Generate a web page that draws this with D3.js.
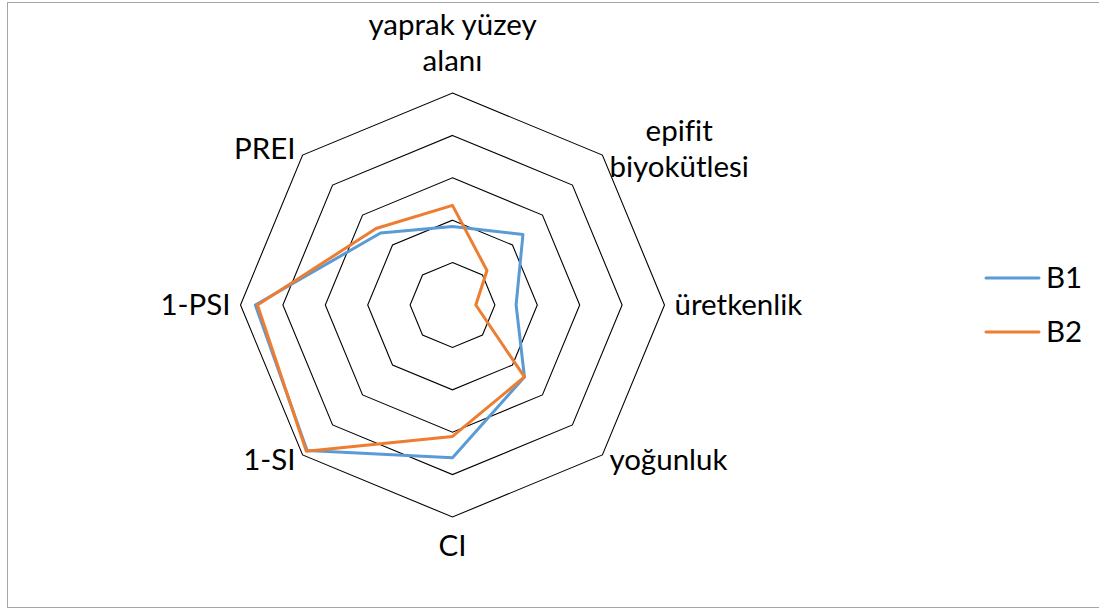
<!DOCTYPE html>
<html>
<head>
    <meta charset="utf-8">
    <title>Radar</title>
    <script src="https://cdnjs.cloudflare.com/ajax/libs/d3/7.8.5/d3.min.js"></script>
    <style>
        body { margin: 0; background: #fff; }
        svg { display: block; }
        text { font-family: Lato, "Open Sans", sans-serif; font-size: 29.5px; fill: #000;
               font-variant-ligatures: none; font-feature-settings: "liga" 0; }
    </style>
</head>
<body>
<svg id="chart"></svg>
<script>
    // axis labels, clockwise from top (multi-line labels split with |)
    const axes = ['yaprak yüzey|alanı', 'epifit|biyokütlesi', 'üretkenlik', 'yoğunluk', 'CI', '1-SI', '1-PSI', 'PREI'];
    const seriesNames = ['B1', 'B2'];
    const b1 = [0.37, 0.47, 0.30, 0.48, 0.72, 0.97, 0.93, 0.48];
    const b2 = [0.47, 0.23, 0.11, 0.48, 0.62, 0.975, 0.92, 0.51];
    const ringTicks = [0.2, 0.4, 0.6, 0.8, 1.0];
    const colors = ['#5B9BD5', '#ED7D31'];

    const width = 1099, height = 610;
    const cx = 452.5, cy = 305, R = 212;
    const lineH = 36;

    const svg = d3.select('#chart')
        .attr('width', width)
        .attr('height', height);

    // outer frame
    svg.append('rect')
        .attr('x', 7.5).attr('y', 2.5)
        .attr('width', 1100).attr('height', 605)
        .attr('fill', 'none')
        .attr('stroke', '#a6a6a6')
        .attr('stroke-width', 1);

    const r = d3.scaleLinear().domain([0, 1]).range([0, R]);
    const angle = d3.scaleLinear().domain([0, axes.length]).range([0, 2 * Math.PI]);

    const g = svg.append('g').attr('transform', `translate(${cx},${cy})`);

    const radial = d3.lineRadial()
        .angle((d, i) => angle(i))
        .radius(d => r(d))
        .curve(d3.curveLinearClosed);

    // rings (octagons)
    g.selectAll('.ring')
        .data(ringTicks)
        .join('path')
        .attr('class', 'ring')
        .attr('d', t => radial(axes.map(() => t)))
        .attr('fill', 'none')
        .attr('stroke', '#000')
        .attr('stroke-width', 1.1);

    // series
    g.selectAll('.series')
        .data([b1, b2])
        .join('path')
        .attr('class', 'series')
        .attr('d', d => radial(d))
        .attr('fill', 'none')
        .attr('stroke', (d, i) => colors[i])
        .attr('stroke-width', 3)
        .attr('stroke-linejoin', 'round');

    // axis labels, lines centred inside their block
    axes.forEach((lab, i) => {
        const a = angle(i);
        const s = Math.sin(a), c = Math.cos(a);
        const vx = r(1) * s, vy = -r(1) * c;
        const lines = lab.split('|');
        const t = g.append('text').attr('text-anchor', 'middle');
        const spans = lines.map(ln => t.append('tspan').text(ln));
        const w = d3.max(spans, sp => sp.node().getComputedTextLength());
        let x = vx, firstBase;
        if (c > 0.99) {
            firstBase = vy - 22 - (lines.length - 1) * lineH;
        } else if (c < -0.99) {
            firstBase = vy + 39;
        } else {
            const off = Math.abs(s) > 0.99 ? 10 : 7;
            x = vx + (s > 0 ? off + w / 2 : -off - w / 2);
            const meanBase = vy + 9.5 - 8.5 * c;
            firstBase = meanBase - (lines.length - 1) * lineH / 2;
        }
        spans.forEach((sp, k) => sp.attr('x', x).attr('y', firstBase + k * lineH));
    });

    // legend
    const legend = svg.append('g').attr('transform', 'translate(986,278)');
    const item = legend.selectAll('g')
        .data(seriesNames)
        .join('g')
        .attr('transform', (d, i) => `translate(0,${i * 54})`);
    item.append('line')
        .attr('x1', 0).attr('x2', 53)
        .attr('stroke', (d, i) => colors[i])
        .attr('stroke-width', 3)
        .attr('stroke-linecap', 'round');
    item.append('text')
        .attr('x', 60)
        .attr('y', 9.5)
        .text(d => d);
</script>
</body>
</html>
